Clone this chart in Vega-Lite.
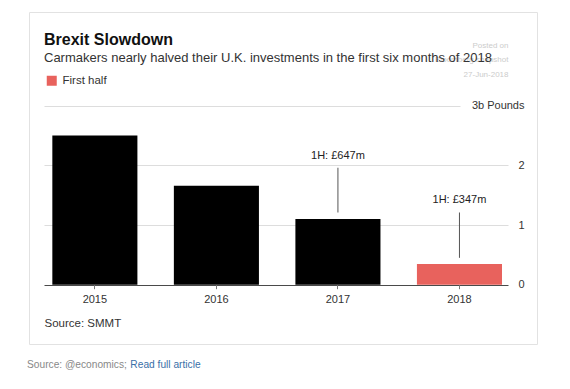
{
  "$schema": "https://vega.github.io/schema/vega-lite/v6.json",
  "width": 508,
  "height": 332,
  "autosize": {"type": "none"},
  "padding": {"left": 29, "top": 12, "right": 33, "bottom": 45},
  "background": "#ffffff",
  "config": {
    "font": "Liberation Sans",
    "view": {"stroke": "#e2e2e2", "strokeWidth": 1, "fill": "#ffffff"}
  },
  "title": {
    "text": "Brexit Slowdown",
    "subtitle": "Carmakers nearly halved their U.K. investments in the first six months of 2018",
    "anchor": "start",
    "frame": "group",
    "orient": "top",
    "offset": -52.5,
    "dx": 15,
    "font": "Liberation Sans",
    "fontSize": 16,
    "fontWeight": "bold",
    "color": "#111111",
    "subtitleFont": "Liberation Sans",
    "subtitleFontSize": 13,
    "subtitleColor": "#333333",
    "subtitlePadding": 4
  },
  "datasets": {
    "bars": [
      {"year": "2015", "investment": 2.5, "period": "Full year"},
      {"year": "2016", "investment": 1.66, "period": "Full year"},
      {"year": "2017", "investment": 1.1, "period": "Full year"},
      {"year": "2018", "investment": 0.347, "period": "First half"}
    ],
    "notes": [
      {"year": "2017", "label": "1H: £647m", "lineFrom": 1.21, "lineTo": 1.96, "labelAt": 2.16},
      {"year": "2018", "label": "1H: £347m", "lineFrom": 0.45, "lineTo": 1.21, "labelAt": 1.42}
    ]
  },
  "layer": [
    {
      "data": {"name": "bars"},
      "mark": {"type": "bar"},
      "encoding": {
        "x": {
          "field": "year",
          "type": "nominal",
          "sort": null,
          "scale": {"paddingInner": 0.3, "paddingOuter": 0.24, "align": 0.4},
          "axis": {
            "orient": "bottom",
            "offset": -59.3,
            "domain": false,
            "ticks": true,
            "tickSize": 4,
            "tickColor": "#777777",
            "labelAngle": 0,
            "labelFontSize": 11,
            "labelColor": "#333333",
            "labelPadding": 5,
            "grid": false,
            "title": "Source: SMMT",
            "titleX": 15,
            "titleY": 42,
            "titleAlign": "left",
            "titleAnchor": "start",
            "titleBaseline": "alphabetic",
            "titleFontSize": 11.5,
            "titleFontWeight": "normal",
            "titleColor": "#333333"
          }
        },
        "y": {
          "field": "investment",
          "type": "quantitative",
          "scale": {"domain": [-0.994, 4.57], "nice": false, "zero": false},
          "axis": {
            "orient": "right",
            "offset": -13,
            "values": [0, 1, 2, 3],
            "format": "d",
            "domain": false,
            "ticks": false,
            "labelPadding": 0,
            "labelFontSize": 11,
            "labelColor": "#333333",
            "labelAlign": "right",
            "labelExpr": "datum.value === 3 ? '3b Pounds' : datum.label",
            "grid": true,
            "gridWidth": 1,
            "gridColor": {"condition": {"test": "datum.value === 0", "value": "#4a4a4a"}, "value": "#dddddd"},
            "gridDash": {"condition": {"test": "datum.value === 3", "value": [0, 77, 416, 200]}, "value": [0, 29, 464, 200]},
            "title": ["Posted on\u00a0\u00a0\u00a0\u00a0\u00a0\u00a0\u00a0\u00a0\u00a0\u00a0\u00a0\u00a0\u00a0\u00a0\u00a0\u00a0\u00a0\u00a0", "Bloomberg snapshot", "27-Jun-2018"],
            "titleAngle": 0,
            "titleX": -16,
            "titleY": 29,
            "titleAlign": "right",
            "titleBaseline": "top",
            "titleFontSize": 8,
            "titleLineHeight": 14.5,
            "titleFontWeight": "normal",
            "titleColor": "#cccccc"
          }
        },
        "color": {
          "field": "period",
          "type": "nominal",
          "scale": {"domain": ["First half", "Full year"], "range": ["#e8625d", "#000000"]},
          "legend": {
            "values": ["First half"],
            "title": null,
            "orient": "none",
            "legendX": 17,
            "legendY": 63,
            "padding": 0,
            "symbolType": "square",
            "symbolSize": 100,
            "symbolStrokeWidth": 0,
            "labelFontSize": 11.5,
            "labelColor": "#333333",
            "labelOffset": 5
          }
        }
      }
    },
    {
      "data": {"name": "notes"},
      "mark": {"type": "rule", "color": "#555555", "strokeWidth": 1},
      "encoding": {
        "x": {"field": "year", "type": "nominal", "sort": null},
        "y": {"field": "lineFrom", "type": "quantitative"},
        "y2": {"field": "lineTo"}
      }
    },
    {
      "data": {"name": "notes"},
      "mark": {"type": "text", "fontSize": 11, "color": "#222222", "baseline": "middle", "align": "center"},
      "encoding": {
        "x": {"field": "year", "type": "nominal", "sort": null},
        "y": {"field": "labelAt", "type": "quantitative"},
        "text": {"field": "label"}
      }
    },
    {
      "data": {"values": [{"footer": "Source: @economics;"}]},
      "mark": {"type": "text", "fontSize": 10.2, "color": "#888888", "baseline": "middle", "align": "left", "dx": -67.8},
      "encoding": {
        "x": {"datum": "2015", "type": "nominal"},
        "y": {"datum": -1.35, "type": "quantitative"},
        "text": {"field": "footer"}
      }
    },
    {
      "data": {"values": [{"footer": "Read full article"}]},
      "mark": {"type": "text", "fontSize": 10.2, "color": "#3a6fa8", "baseline": "middle", "align": "left", "dx": 35.5},
      "encoding": {
        "x": {"datum": "2015", "type": "nominal"},
        "y": {"datum": -1.35, "type": "quantitative"},
        "text": {"field": "footer"}
      }
    }
  ]
}
